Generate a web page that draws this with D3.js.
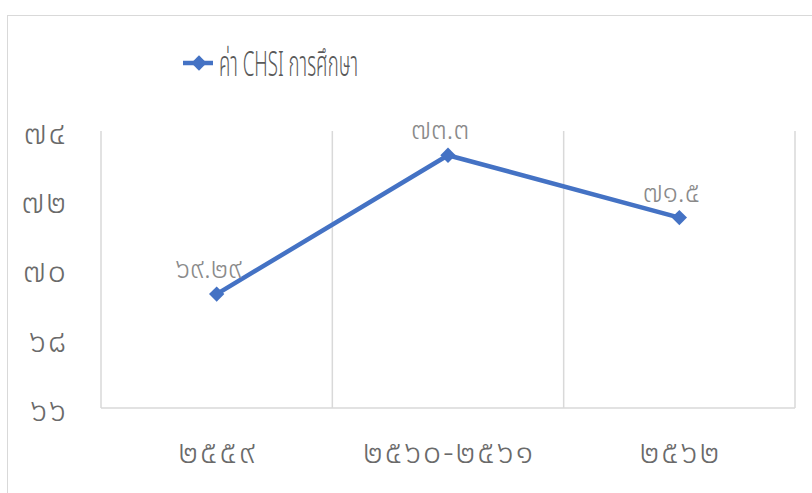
<!DOCTYPE html>
<html>
<head>
<meta charset="utf-8">
<script src="https://cdn.jsdelivr.net/npm/d3@7"></script>
<style>
  body { margin: 0; background: #fff; }
  text { font-family: "Noto Sans Thai", "Leelawadee UI", "Noto Sans", "DejaVu Sans", sans-serif; }
</style>
</head>
<body>
<div class="visual"></div>
<script>
//data
const categories = ["๒๕๕๙", "๒๕๖๐-๒๕๖๑", "๒๕๖๒"];
const values = [69.29, 73.3, 71.5];
const yTicks = [66, 68, 70, 72, 74];
const seriesName = "ค่า CHSI การศึกษา";

//arabic -> thai digits
const thaiDigits = "๐๑๒๓๔๕๖๗๘๙";
const toThai = s => String(s).replace(/[0-9]/g, d => thaiDigits[+d]);

const width = 812, height = 493;
const plot = {left: 101, right: 795, top: 131, bottom: 408};

const svg = d3.select(".visual")
  .append("svg")
  .attr("width", width)
  .attr("height", height);

//chart border
svg.append("rect")
  .attr("x", 7.5).attr("y", 15.5)
  .attr("width", 820).attr("height", 500)
  .attr("fill", "#fff")
  .attr("stroke", "#d9d9d9");

const xScale = d3.scaleBand().domain(categories).range([plot.left, plot.right]);
const yScale = d3.scaleLinear().domain([66, 74]).range([plot.bottom, plot.top]);

//vertical gridlines at category edges
const edges = categories.map(c => xScale(c)).concat([plot.right]);
svg.selectAll(".vgrid")
  .data(edges)
  .enter()
  .append("line")
  .attr("class", "vgrid")
  .attr("x1", d => d).attr("x2", d => d)
  .attr("y1", plot.top).attr("y2", plot.bottom)
  .attr("stroke", "#d9d9d9")
  .attr("stroke-width", 1.5);

//x axis line
svg.append("line")
  .attr("x1", plot.left).attr("x2", plot.right)
  .attr("y1", plot.bottom).attr("y2", plot.bottom)
  .attr("stroke", "#d9d9d9")
  .attr("stroke-width", 1.5);

//y axis labels
const yAxis = d3.axisLeft(yScale)
  .tickValues(yTicks)
  .tickFormat(d => toThai(d))
  .tickSize(0)
  .tickPadding(0);
const yg = svg.append("g")
  .attr("transform", "translate(68,2)")
  .call(yAxis);
yg.select(".domain").remove();
yg.selectAll("text")
  .attr("fill", "#6a6a6a")
  .style("font-size", "32px")
  .style("font-weight", 300)
  .style("letter-spacing", "2px");

//x axis labels
const xAxis = d3.axisBottom(xScale).tickSize(0).tickPadding(0);
const xg = svg.append("g")
  .attr("transform", "translate(1,440)")
  .call(xAxis);
xg.select(".domain").remove();
xg.selectAll("text")
  .attr("fill", "#6a6a6a")
  .style("font-size", "32px")
  .style("font-weight", 300)
  .style("letter-spacing", "2px");

const cx = d => xScale(d) + xScale.bandwidth() / 2;
const pts = categories.map((c, i) => [cx(c), yScale(values[i])]);

//line
svg.append("path")
  .datum(pts)
  .attr("d", d3.line())
  .attr("fill", "none")
  .attr("stroke", "#4472c4")
  .attr("stroke-width", 4.5)
  .attr("stroke-linejoin", "round");

//markers
const diamond = d3.symbol().type(d3.symbolDiamond2).size(150);
svg.selectAll(".dot")
  .data(pts)
  .enter()
  .append("path")
  .attr("class", "dot")
  .attr("d", diamond)
  .attr("transform", d => "translate(" + d[0] + "," + d[1] + ")")
  .attr("fill", "#4472c4");

//data labels
svg.selectAll(".lbl")
  .data(values)
  .enter()
  .append("text")
  .attr("class", "lbl")
  .attr("x", (d, i) => pts[i][0] - 8)
  .attr("y", (d, i) => pts[i][1] - 16)
  .attr("text-anchor", "middle")
  .attr("fill", "#8a8a8a")
  .style("font-size", "28px")
  .style("font-weight", 300)
  .text(d => toThai(d));

//legend
const legend = svg.append("g").attr("transform", "translate(0,63)");
legend.append("line")
  .attr("x1", 183).attr("x2", 213)
  .attr("stroke", "#4472c4")
  .attr("stroke-width", 4.5);
legend.append("path")
  .attr("d", diamond)
  .attr("transform", "translate(199,0)")
  .attr("fill", "#4472c4");
legend.append("text")
  .attr("x", 219)
  .attr("y", 13)
  .attr("fill", "#595959")
  .attr("textLength", 139)
  .attr("lengthAdjust", "spacingAndGlyphs")
  .style("font-size", "35px")
  .style("font-weight", 300)
  .text(seriesName);
</script>
</body>
</html>
